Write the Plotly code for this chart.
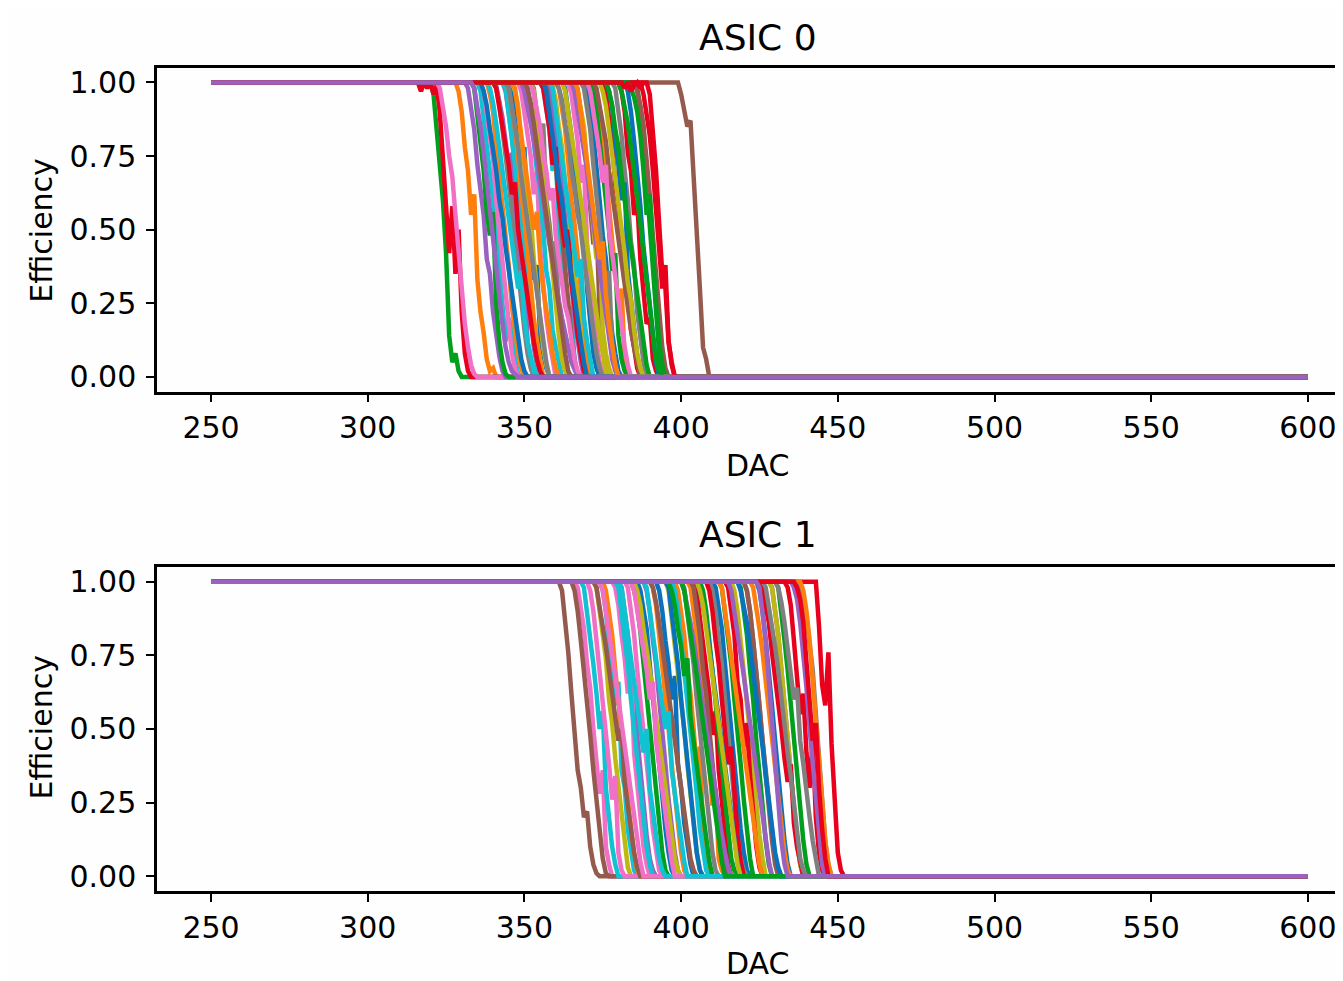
import plotly.graph_objects as go

# efficiency scans per channel: DAC where the channel is last fully efficient,
# then the efficiency read at each following DAC step until it reaches 0
dac_min, dac_max = 250, 600

asic0_start = [345, 328, 320, 316, 340, 366, 322, 352, 358, 335,
               362, 372, 385, 375, 331, 399, 348, 340, 346, 355,
               369, 338, 333, 380, 357, 385, 364, 378, 366, 350,
               376, 360, 371, 387, 343, 356, 336, 368, 352, 343,
               382, 344, 383, 355, 349, 372, 352, 360, 362, 338,
               356, 346, 376, 340, 365, 350, 370, 344, 374, 358,
               336, 366, 380, 380, 333]
asic0_eff = [
    [0.98, 0.93, 0.86, 0.74, 0.78, 0.52, 0.46, 0.33, 0.38, 0.14, 0.08, 0.03, 0],
    [0.97, 0.9, 0.78, 0.7, 0.55, 0.62, 0.33, 0.22, 0.15, 0.06, 0.02, 0.03, 0],
    [0.96, 0.85, 0.72, 0.6, 0.42, 0.14, 0.05, 0.08, 0.02, 0],
    [0.97, 1.0, 0.98, 1.0, 0.96, 0.99, 0.9, 0.75, 0.6, 0.42, 0.58, 0.35, 0.5, 0.22, 0.08, 0.02, 0],
    [0.99, 0.94, 0.88, 0.8, 0.71, 0.76, 0.5, 0.44, 0.3, 0.36, 0.12, 0.06, 0.02, 0],
    [0.97, 0.9, 0.83, 0.7, 0.58, 0.45, 0.52, 0.22, 0.12, 0.04, 0],
    [0.98, 0.92, 0.85, 0.75, 0.68, 0.55, 0.42, 0.3, 0.18, 0.1, 0.04, 0.01, 0],
    [0.98, 0.9, 0.8, 0.86, 0.6, 0.52, 0.4, 0.46, 0.2, 0.1, 0.05, 0],
    [0.99, 0.94, 0.85, 0.78, 0.66, 0.58, 0.47, 0.35, 0.28, 0.16, 0.1, 0.04, 0],
    [0.97, 0.88, 0.8, 0.72, 0.6, 0.5, 0.38, 0.28, 0.12, 0.2, 0.16, 0.06, 0.01, 0],
    [0.98, 0.91, 0.82, 0.7, 0.64, 0.5, 0.58, 0.3, 0.18, 0.08, 0.03, 0],
    [0.97, 0.9, 0.8, 0.68, 0.6, 0.44, 0.35, 0.24, 0.3, 0.06, 0.02, 0],
    [0.98, 0.92, 0.85, 0.66, 0.52, 0.38, 0.2, 0.08, 0.02, 0],
    [0.96, 0.88, 0.8, 0.65, 0.58, 0.4, 0.48, 0.3, 0.16, 0.1, 0.03, 0],
    [0.98, 0.9, 0.84, 0.72, 0.62, 0.55, 0.4, 0.35, 0.22, 0.14, 0.07, 0.02, 0],
    [0.96, 0.9, 0.85, 0.87, 0.7, 0.5, 0.3, 0.1, 0.06, 0],
    [0.97, 0.9, 0.82, 0.75, 0.62, 0.7, 0.44, 0.3, 0.2, 0.12, 0.05, 0],
    [0.98, 0.93, 0.84, 0.76, 0.66, 0.56, 0.42, 0.36, 0.25, 0.16, 0.08, 0.03, 0],
    [0.97, 0.92, 0.8, 0.72, 0.6, 0.55, 0.4, 0.3, 0.22, 0.1, 0.04, 0],
    [0.98, 0.9, 0.84, 0.7, 0.76, 0.5, 0.42, 0.28, 0.2, 0.24, 0.05, 0.01, 0],
    [0.97, 0.91, 0.82, 0.72, 0.6, 0.48, 0.4, 0.26, 0.15, 0.08, 0.02, 0],
    [0.96, 0.9, 0.78, 0.68, 0.58, 0.45, 0.38, 0.24, 0.16, 0.08, 0.03, 0],
    [0.98, 0.88, 0.8, 0.7, 0.56, 0.48, 0.56, 0.25, 0.12, 0.05, 0.01, 0],
    [0.97, 0.9, 0.76, 0.7, 0.55, 0.6, 0.4, 0.3, 0.18, 0.2, 0.06, 0.02, 0],
    [0.98, 0.92, 0.83, 0.74, 0.62, 0.54, 0.4, 0.32, 0.2, 0.12, 0.05, 0],
    [0.97, 0.92, 0.85, 0.75, 0.62, 0.48, 0.35, 0.2, 0.1, 0.03, 0],
    [0.96, 0.88, 0.8, 0.66, 0.72, 0.45, 0.32, 0.24, 0.12, 0.05, 0.02, 0],
    [0.98, 0.9, 0.82, 0.7, 0.6, 0.46, 0.38, 0.22, 0.14, 0.05, 0],
    [0.97, 0.9, 0.85, 0.72, 0.62, 0.52, 0.4, 0.48, 0.16, 0.08, 0.03, 0],
    [0.98, 0.9, 0.8, 0.7, 0.64, 0.5, 0.36, 0.3, 0.16, 0.1, 0.04, 0],
    [0.97, 0.92, 0.8, 0.72, 0.6, 0.66, 0.36, 0.26, 0.14, 0.07, 0.02, 0],
    [0.98, 0.9, 0.84, 0.73, 0.6, 0.52, 0.4, 0.28, 0.18, 0.08, 0.02, 0],
    [0.97, 0.9, 0.8, 0.7, 0.62, 0.5, 0.36, 0.42, 0.14, 0.06, 0.02, 0],
    [0.96, 0.9, 0.82, 0.7, 0.56, 0.42, 0.3, 0.38, 0.12, 0.04, 0],
    [0.97, 0.9, 0.82, 0.7, 0.64, 0.5, 0.4, 0.3, 0.2, 0.1, 0.04, 0],
    [0.98, 0.9, 0.8, 0.72, 0.6, 0.48, 0.38, 0.26, 0.14, 0.06, 0],
    [0.97, 0.9, 0.82, 0.74, 0.6, 0.5, 0.38, 0.3, 0.18, 0.08, 0.03, 0],
    [0.98, 0.92, 0.84, 0.72, 0.62, 0.5, 0.4, 0.3, 0.36, 0.1, 0.04, 0],
    [0.97, 0.88, 0.8, 0.7, 0.58, 0.48, 0.35, 0.25, 0.14, 0.06, 0.02, 0],
    [0.98, 0.9, 0.8, 0.72, 0.6, 0.5, 0.42, 0.3, 0.22, 0.12, 0.05, 0],
    [0.97, 0.9, 0.8, 0.7, 0.58, 0.44, 0.34, 0.22, 0.12, 0.05, 0],
    [0.98, 0.92, 0.84, 0.75, 0.62, 0.54, 0.42, 0.32, 0.2, 0.12, 0.05, 0],
    [0.98, 0.95, 0.9, 0.82, 0.7, 0.55, 0.62, 0.4, 0.25, 0.12, 0.04, 0],
    [0.98, 0.9, 0.84, 0.72, 0.78, 0.6, 0.52, 0.44, 0.5, 0.32, 0.24, 0.14, 0.08, 0.02, 0],
    [0.97, 0.92, 0.86, 0.8, 0.72, 0.66, 0.6, 0.52, 0.45, 0.4, 0.32, 0.26, 0.2, 0.14, 0.1, 0.05, 0.02, 0],
    [0.98, 0.92, 0.84, 0.8, 0.7, 0.62, 0.55, 0.46, 0.4, 0.3, 0.24, 0.16, 0.1, 0.04, 0],
    [0.96, 0.9, 0.85, 0.76, 0.7, 0.6, 0.64, 0.48, 0.4, 0.34, 0.24, 0.2, 0.12, 0.06, 0.02, 0],
    [0.98, 0.94, 0.86, 0.8, 0.7, 0.64, 0.55, 0.5, 0.4, 0.32, 0.22, 0.16, 0.08, 0.03, 0],
    [0.97, 0.9, 0.84, 0.76, 0.68, 0.6, 0.52, 0.44, 0.38, 0.3, 0.22, 0.14, 0.08, 0.02, 0],
    [0.98, 0.93, 0.86, 0.78, 0.7, 0.62, 0.56, 0.46, 0.4, 0.3, 0.36, 0.2, 0.12, 0.06, 0.02, 0],
    [0.97, 0.9, 0.82, 0.74, 0.66, 0.6, 0.5, 0.42, 0.34, 0.26, 0.18, 0.12, 0.05, 0],
    [0.98, 0.9, 0.84, 0.76, 0.68, 0.6, 0.5, 0.56, 0.4, 0.3, 0.22, 0.14, 0.08, 0.03, 0],
    [0.97, 0.92, 0.84, 0.78, 0.68, 0.6, 0.5, 0.44, 0.34, 0.26, 0.18, 0.1, 0.04, 0],
    [0.98, 0.92, 0.86, 0.78, 0.72, 0.62, 0.66, 0.5, 0.42, 0.34, 0.28, 0.2, 0.12, 0.06, 0.02, 0],
    [0.97, 0.9, 0.84, 0.76, 0.7, 0.6, 0.52, 0.46, 0.36, 0.3, 0.2, 0.14, 0.06, 0.02, 0],
    [0.98, 0.93, 0.86, 0.78, 0.7, 0.62, 0.54, 0.46, 0.38, 0.3, 0.22, 0.14, 0.08, 0.02, 0],
    [0.97, 0.9, 0.82, 0.76, 0.66, 0.72, 0.5, 0.42, 0.34, 0.24, 0.16, 0.1, 0.04, 0],
    [0.98, 0.92, 0.85, 0.78, 0.68, 0.6, 0.52, 0.44, 0.36, 0.28, 0.2, 0.12, 0.05, 0],
    [0.97, 0.92, 0.84, 0.76, 0.68, 0.58, 0.5, 0.42, 0.32, 0.26, 0.16, 0.08, 0.03, 0],
    [0.98, 0.9, 0.84, 0.76, 0.66, 0.6, 0.5, 0.42, 0.34, 0.4, 0.2, 0.12, 0.05, 0],
    [0.97, 0.92, 0.84, 0.78, 0.7, 0.6, 0.54, 0.44, 0.36, 0.28, 0.2, 0.12, 0.06, 0.02, 0],
    [0.98, 0.9, 0.82, 0.74, 0.66, 0.58, 0.5, 0.4, 0.46, 0.28, 0.18, 0.1, 0.04, 0],
    [0.97, 0.92, 0.86, 0.78, 0.7, 0.6, 0.52, 0.42, 0.34, 0.24, 0.14, 0.06, 0.02, 0],
    [1.0, 0.98, 1.0, 0.97, 0.99, 1.0, 0.98, 1.0, 1.0, 0.96, 0.85, 0.7, 0.52, 0.35, 0.3, 0.12, 0.05, 0],
    [0.98, 0.92, 0.85, 0.76, 0.66, 0.58, 0.47, 0.38, 0.27, 0.18, 0.1, 0.05, 0.02, 0.01, 0],
]

asic1_start = [392, 402, 384, 443, 380, 361, 366, 420, 372, 374,
               410, 398, 412, 404, 428, 365, 378, 437, 395, 368,
               386, 438, 418, 433, 388, 403, 370, 400, 416, 379,
               424, 390, 406, 414, 435, 420, 382, 409, 428, 397,
               395, 375, 430, 408, 400, 372, 374, 430, 385, 380,
               405, 412, 396, 425, 415, 390, 384, 426, 405, 388,
               418, 422, 400, 436, 424]
asic1_eff = [
    [0.97, 0.9, 0.8, 0.72, 0.6, 0.68, 0.38, 0.3, 0.18, 0.1, 0.04, 0],
    [0.98, 0.9, 0.82, 0.7, 0.6, 0.46, 0.38, 0.24, 0.3, 0.06, 0.02, 0],
    [0.97, 0.92, 0.83, 0.72, 0.62, 0.5, 0.38, 0.28, 0.16, 0.08, 0.02, 0],
    [0.85, 0.65, 0.58, 0.76, 0.45, 0.28, 0.08, 0.02, 0],
    [0.98, 0.9, 0.82, 0.7, 0.58, 0.5, 0.36, 0.26, 0.14, 0.06, 0.02, 0],
    [0.97, 0.88, 0.76, 0.62, 0.5, 0.36, 0.3, 0.2, 0.22, 0.1, 0.04, 0.01, 0],
    [0.98, 0.9, 0.84, 0.72, 0.64, 0.5, 0.4, 0.28, 0.36, 0.1, 0.04, 0],
    [0.97, 0.9, 0.8, 0.7, 0.58, 0.46, 0.36, 0.24, 0.14, 0.06, 0.02, 0],
    [0.98, 0.9, 0.8, 0.74, 0.6, 0.52, 0.4, 0.3, 0.2, 0.1, 0.03, 0],
    [0.97, 0.9, 0.78, 0.7, 0.58, 0.66, 0.36, 0.3, 0.16, 0.08, 0.02, 0],
    [0.98, 0.92, 0.84, 0.72, 0.6, 0.48, 0.4, 0.26, 0.16, 0.08, 0.02, 0],
    [0.97, 0.9, 0.82, 0.7, 0.62, 0.5, 0.36, 0.44, 0.16, 0.06, 0.02, 0],
    [0.98, 0.9, 0.8, 0.72, 0.6, 0.5, 0.38, 0.26, 0.14, 0.06, 0],
    [0.96, 0.88, 0.8, 0.7, 0.62, 0.48, 0.56, 0.36, 0.24, 0.12, 0.04, 0],
    [0.98, 0.9, 0.82, 0.7, 0.58, 0.46, 0.34, 0.22, 0.12, 0.04, 0],
    [0.97, 0.9, 0.8, 0.7, 0.6, 0.48, 0.36, 0.26, 0.14, 0.06, 0.01, 0],
    [0.98, 0.92, 0.82, 0.74, 0.62, 0.72, 0.42, 0.3, 0.2, 0.1, 0.04, 0],
    [0.98, 0.94, 0.88, 0.8, 0.7, 0.55, 0.4, 0.25, 0.12, 0.04, 0],
    [0.97, 0.88, 0.8, 0.7, 0.6, 0.5, 0.38, 0.28, 0.18, 0.08, 0.02, 0],
    [0.98, 0.9, 0.8, 0.72, 0.62, 0.5, 0.56, 0.3, 0.2, 0.1, 0.04, 0],
    [0.97, 0.9, 0.84, 0.72, 0.6, 0.5, 0.4, 0.28, 0.16, 0.08, 0.02, 0],
    [0.97, 0.9, 0.8, 0.66, 0.5, 0.36, 0.22, 0.12, 0.04, 0],
    [0.98, 0.9, 0.82, 0.7, 0.6, 0.46, 0.36, 0.24, 0.12, 0.04, 0],
    [0.98, 0.92, 0.8, 0.68, 0.55, 0.62, 0.42, 0.3, 0.46, 0.2, 0.08, 0.02, 0],
    [0.97, 0.9, 0.8, 0.72, 0.6, 0.5, 0.38, 0.26, 0.16, 0.08, 0.02, 0],
    [0.98, 0.9, 0.82, 0.7, 0.62, 0.5, 0.38, 0.28, 0.16, 0.08, 0.02, 0],
    [0.97, 0.9, 0.8, 0.7, 0.6, 0.48, 0.38, 0.26, 0.34, 0.08, 0.02, 0],
    [0.98, 0.9, 0.82, 0.72, 0.6, 0.5, 0.4, 0.3, 0.18, 0.08, 0.02, 0],
    [0.97, 0.9, 0.8, 0.7, 0.6, 0.48, 0.36, 0.24, 0.14, 0.06, 0],
    [0.98, 0.9, 0.8, 0.72, 0.6, 0.5, 0.4, 0.3, 0.2, 0.1, 0.04, 0],
    [0.97, 0.9, 0.8, 0.7, 0.58, 0.46, 0.34, 0.22, 0.12, 0.04, 0],
    [0.98, 0.92, 0.82, 0.72, 0.62, 0.5, 0.38, 0.28, 0.16, 0.08, 0.02, 0],
    [0.97, 0.9, 0.8, 0.7, 0.6, 0.48, 0.38, 0.26, 0.14, 0.06, 0.02, 0],
    [0.98, 0.9, 0.82, 0.66, 0.6, 0.44, 0.52, 0.34, 0.2, 0.1, 0.03, 0],
    [0.98, 0.94, 0.86, 0.76, 0.64, 0.5, 0.38, 0.24, 0.12, 0.04, 0],
    [0.97, 0.9, 0.8, 0.7, 0.58, 0.46, 0.34, 0.22, 0.12, 0.04, 0],
    [0.98, 0.9, 0.82, 0.7, 0.6, 0.5, 0.38, 0.28, 0.16, 0.08, 0.02, 0],
    [0.97, 0.9, 0.8, 0.72, 0.6, 0.48, 0.38, 0.26, 0.14, 0.06, 0.02, 0],
    [0.98, 0.9, 0.82, 0.7, 0.58, 0.46, 0.34, 0.22, 0.12, 0.04, 0],
    [0.97, 0.9, 0.8, 0.7, 0.6, 0.5, 0.38, 0.28, 0.16, 0.08, 0.02, 0],
    [0.98, 0.9, 0.82, 0.72, 0.6, 0.5, 0.4, 0.28, 0.18, 0.08, 0.02, 0],
    [0.97, 0.9, 0.82, 0.7, 0.6, 0.48, 0.38, 0.26, 0.16, 0.08, 0.02, 0],
    [0.98, 0.9, 0.8, 0.7, 0.58, 0.46, 0.34, 0.22, 0.12, 0.04, 0],
    [0.97, 0.9, 0.8, 0.72, 0.6, 0.5, 0.38, 0.44, 0.26, 0.14, 0.05, 0],
    [0.97, 0.92, 0.86, 0.8, 0.72, 0.66, 0.58, 0.5, 0.44, 0.36, 0.28, 0.22, 0.14, 0.08, 0.03, 0],
    [0.98, 0.92, 0.84, 0.78, 0.7, 0.62, 0.54, 0.46, 0.5, 0.32, 0.24, 0.16, 0.08, 0.03, 0],
    [0.97, 0.9, 0.84, 0.76, 0.68, 0.6, 0.52, 0.44, 0.36, 0.28, 0.2, 0.12, 0.05, 0],
    [0.98, 0.93, 0.86, 0.78, 0.7, 0.6, 0.64, 0.46, 0.38, 0.28, 0.2, 0.12, 0.05, 0],
    [0.97, 0.92, 0.84, 0.78, 0.7, 0.62, 0.54, 0.46, 0.38, 0.3, 0.22, 0.14, 0.06, 0.02, 0],
    [0.98, 0.9, 0.84, 0.76, 0.68, 0.6, 0.5, 0.42, 0.5, 0.3, 0.22, 0.14, 0.06, 0.02, 0],
    [0.97, 0.92, 0.86, 0.78, 0.7, 0.62, 0.54, 0.44, 0.36, 0.28, 0.2, 0.12, 0.05, 0],
    [0.98, 0.9, 0.84, 0.76, 0.66, 0.58, 0.5, 0.42, 0.34, 0.26, 0.18, 0.1, 0.04, 0],
    [0.97, 0.92, 0.84, 0.78, 0.68, 0.74, 0.54, 0.46, 0.36, 0.28, 0.2, 0.12, 0.05, 0],
    [0.98, 0.92, 0.86, 0.76, 0.68, 0.58, 0.5, 0.4, 0.32, 0.38, 0.18, 0.1, 0.04, 0],
    [0.97, 0.9, 0.84, 0.76, 0.68, 0.6, 0.52, 0.44, 0.36, 0.28, 0.2, 0.12, 0.05, 0],
    [0.98, 0.93, 0.86, 0.78, 0.7, 0.62, 0.54, 0.46, 0.38, 0.3, 0.22, 0.14, 0.06, 0.02, 0],
    [0.97, 0.9, 0.84, 0.76, 0.7, 0.6, 0.66, 0.46, 0.38, 0.3, 0.2, 0.12, 0.05, 0],
    [0.98, 0.92, 0.86, 0.78, 0.7, 0.6, 0.52, 0.42, 0.34, 0.24, 0.14, 0.06, 0.02, 0],
    [0.97, 0.92, 0.84, 0.76, 0.68, 0.6, 0.5, 0.42, 0.34, 0.26, 0.18, 0.1, 0.04, 0],
    [0.98, 0.9, 0.84, 0.76, 0.68, 0.58, 0.5, 0.56, 0.36, 0.28, 0.2, 0.12, 0.05, 0],
    [0.97, 0.92, 0.86, 0.78, 0.7, 0.6, 0.52, 0.44, 0.34, 0.26, 0.16, 0.08, 0.03, 0],
    [0.98, 0.92, 0.84, 0.76, 0.66, 0.56, 0.46, 0.36, 0.26, 0.16, 0.08, 0.02, 0],
    [0.97, 0.9, 0.84, 0.76, 0.68, 0.6, 0.52, 0.44, 0.36, 0.28, 0.2, 0.12, 0.05, 0],
    [0.98, 0.94, 0.86, 0.72, 0.6, 0.46, 0.52, 0.3, 0.16, 0.06, 0],
    [0.98, 0.9, 0.8, 0.66, 0.52, 0.4, 0.26, 0.12, 0.04, 0],
]

x_ticks = [250, 300, 350, 400, 450, 500, 550, 600]
y_ticks = [0.0, 0.25, 0.5, 0.75, 1.0]
y_ticklabels = ["0.00", "0.25", "0.50", "0.75", "1.00"]

# matplotlib default cycle, a bit more saturated like the reference
colors = ["#0a72bd", "#ff7f0e", "#00a01e", "#e8001c", "#9a62c0",
          "#955a4e", "#f070c6", "#808080", "#c0b812", "#10c2d2"]

fig = go.Figure()

for ax, starts, effs in [("", asic0_start, asic0_eff), ("2", asic1_start, asic1_eff)]:
    for i, (s, vals) in enumerate(zip(starts, effs)):
        xs = [dac_min] + [s + k for k in range(len(vals) + 1)] + [dac_max]
        ys = [1.0, 1.0] + vals + [0.0]
        fig.add_trace(go.Scatter(x=xs, y=ys, mode="lines",
                                 line=dict(color=colors[i % 10], width=4.5),
                                 xaxis="x" + ax, yaxis="y" + ax,
                                 showlegend=False, hoverinfo="skip"))

font = dict(family="DejaVu Sans", size=30, color="black")
xax = dict(range=[232.77, 611.2], tickvals=x_ticks, showgrid=False, zeroline=False,
           showline=True, linecolor="black", linewidth=2.5, mirror=True,
           ticks="outside", ticklen=8, tickwidth=2, tickcolor="black",
           tickfont=font, ticklabelstandoff=0)
yax = dict(range=[-0.05, 1.05], tickvals=y_ticks, ticktext=y_ticklabels,
           showgrid=False, zeroline=False, showline=True, linecolor="black",
           linewidth=2.5, ticks="outside", ticklen=8, tickwidth=2,
           tickcolor="black", tickfont=font, ticklabelstandoff=4)

# the page puts the figure 8px in from the top-left corner
fig.update_layout(
    width=1343, height=981,
    margin=dict(l=149, r=8, t=0, b=0),
    paper_bgcolor="#fefefe", plot_bgcolor="#fefefe",
    xaxis=dict(xax, domain=[0, 1], anchor="y"),
    yaxis=dict(yax, domain=[0.6096, 0.9419], anchor="x"),
    xaxis2=dict(xax, domain=[0, 1], anchor="y2"),
    yaxis2=dict(yax, domain=[0.0975, 0.4298], anchor="x2"),
)

for txt, xs, ys, size, ang in [("ASIC 0", 758, 35, 36, 0), ("DAC", 758, 465, 30, 0),
                               ("Efficiency", 42, 228, 30, -90),
                               ("ASIC 1", 758, 535, 36, 0), ("DAC", 758, 966, 30, 0),
                               ("Efficiency", 42, 728, 30, -90)]:
    fig.add_annotation(text=txt, x=(xs - 157) / 1186, y=1 - (ys - 8) / 981,
                       xref="paper", yref="paper",
                       xanchor="center", yanchor="middle", showarrow=False, textangle=ang,
                       font=dict(family="DejaVu Sans", size=size, color="black"))

fig.write_html("out.html")
